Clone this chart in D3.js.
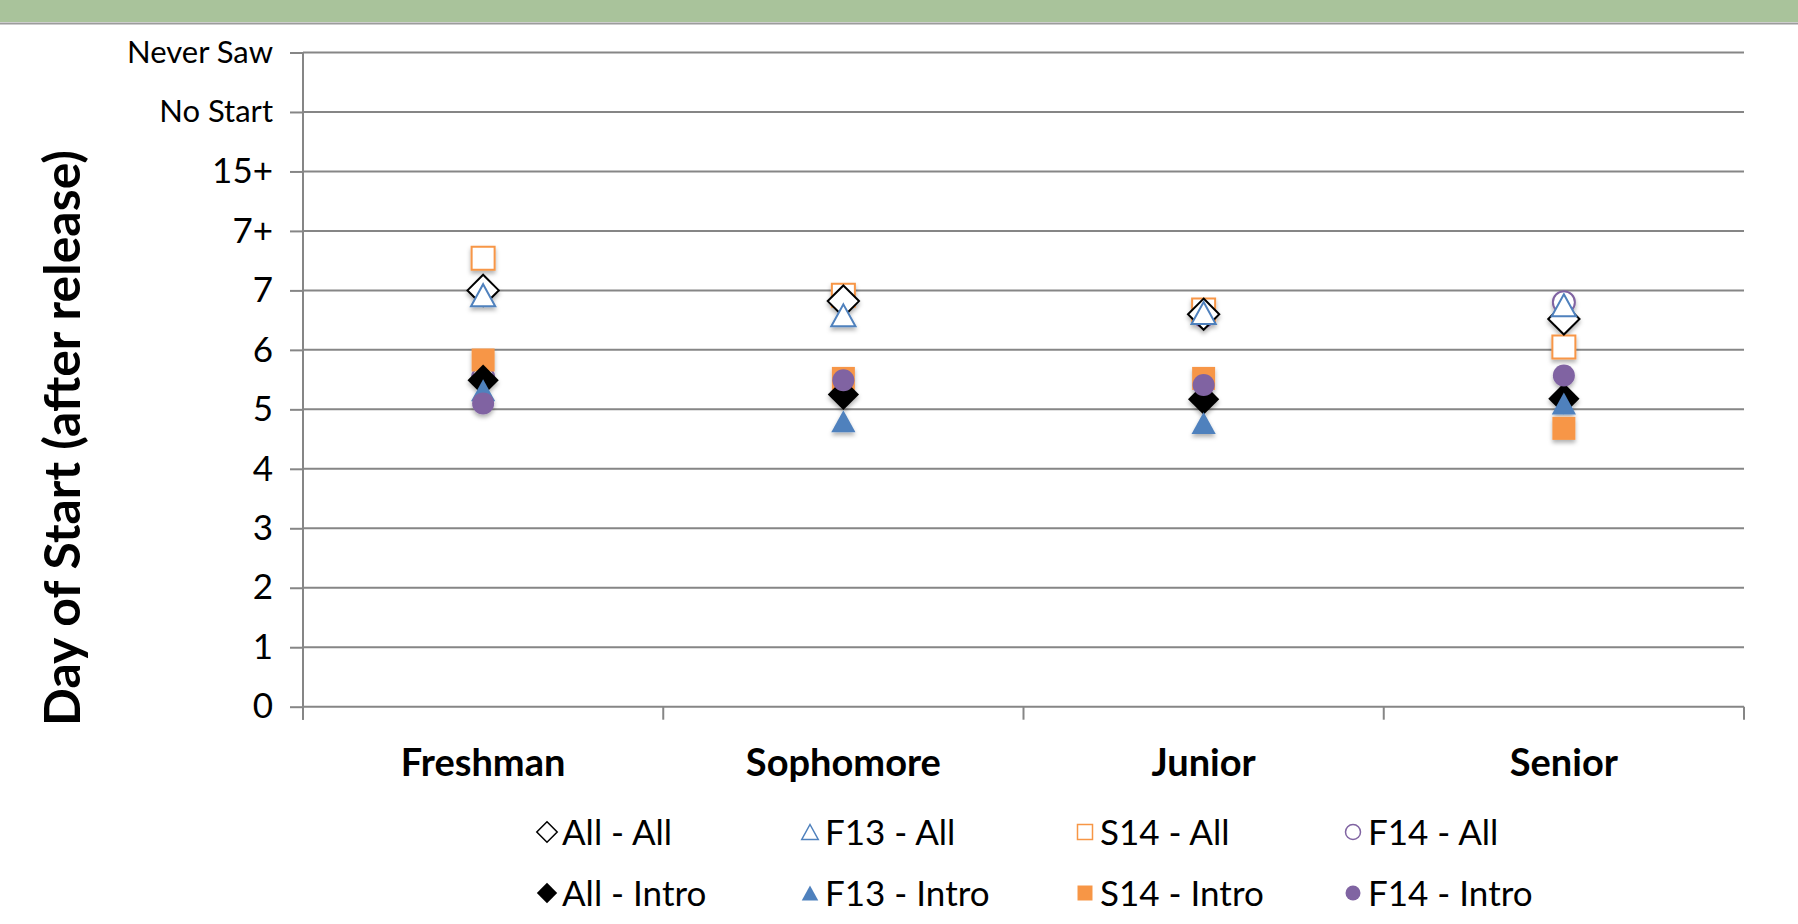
<!DOCTYPE html>
<html>
<head>
<meta charset="utf-8">
<script src="https://cdn.jsdelivr.net/npm/d3@7/dist/d3.min.js"></script>
<style>
  html, body { margin: 0; padding: 0; background: #fff; }
  svg { display: block; }
  text { font-family: Lato, "Noto Sans", sans-serif; fill: #000; }
</style>
</head>
<body>
<svg id="chart" width="1798" height="924"></svg>
<script>
// Class years on the x axis and the ordinal day-of-start scale on the y axis
const categories = ["Freshman", "Sophomore", "Junior", "Senior"];
const yTickLabels = ["0", "1", "2", "3", "4", "5", "6", "7", "7+", "15+", "No Start", "Never Saw"];

// Mean day of start per class year, one array per term / course group
const allAll   = [7.00, 6.82, 6.60, 6.52];
const f13All   = [6.92, 6.58, 6.62, 6.75];
const s14All   = [7.54, 6.92, 6.67, 6.05];
const f14All   = [5.54, 6.88, 6.57, 6.80];
const allIntro = [5.49, 5.25, 5.17, 5.18];
const f13Intro = [5.32, 4.80, 4.77, 5.10];
const s14Intro = [5.83, 5.52, 5.52, 4.68];
const f14Intro = [5.10, 5.49, 5.41, 5.57];

const seriesNames = ["All - All", "F13 - All", "S14 - All", "F14 - All",
                     "All - Intro", "F13 - Intro", "S14 - Intro", "F14 - Intro"];

// legend order (row by row)
const series = [
  { name: seriesNames[0], values: allAll,   shape: "diamond",  color: "#000000", filled: false },
  { name: seriesNames[1], values: f13All,   shape: "triangle", color: "#4f81bd", filled: false },
  { name: seriesNames[2], values: s14All,   shape: "square",   color: "#f79646", filled: false },
  { name: seriesNames[3], values: f14All,   shape: "circle",   color: "#8064a2", filled: false },
  { name: seriesNames[4], values: allIntro, shape: "diamond",  color: "#000000", filled: true },
  { name: seriesNames[5], values: f13Intro, shape: "triangle", color: "#4f81bd", filled: true },
  { name: seriesNames[6], values: s14Intro, shape: "square",   color: "#f79646", filled: true },
  { name: seriesNames[7], values: f14Intro, shape: "circle",   color: "#8064a2", filled: true }
];
// stacking order of the markers in the plot (first drawn = bottom)
const drawOrder = [3, 2, 0, 1, 6, 4, 5, 7];

const W = 1798, H = 924;
const plot = { left: 303, right: 1744, top: 52.5, bottom: 706.7 };

const svg = d3.select("#chart");

// drop shadow used by the markers
const defs = svg.append("defs");
const f = defs.append("filter").attr("id", "shadow")
  .attr("x", "-50%").attr("y", "-50%").attr("width", "200%").attr("height", "200%");
f.append("feDropShadow").attr("dx", 0).attr("dy", 3).attr("stdDeviation", 2)
  .attr("flood-color", "#000").attr("flood-opacity", 0.3);

// slide header band
svg.append("rect").attr("x", 0).attr("y", 0).attr("width", W).attr("height", 22)
  .attr("fill", "#a9c39b");
svg.append("line").attr("x1", 0).attr("x2", W).attr("y1", 23.5).attr("y2", 23.5)
  .attr("stroke", "#9c9c9c").attr("stroke-width", 2);

const x = d3.scaleBand().domain(categories).range([plot.left, plot.right]).paddingInner(0).paddingOuter(0);
const y = d3.scaleLinear().domain([0, yTickLabels.length - 1]).range([plot.bottom, plot.top]);

const gridColor = "#868686";

// horizontal gridlines
svg.append("g").selectAll("line")
  .data(d3.range(1, yTickLabels.length))
  .join("line")
  .attr("x1", plot.left).attr("x2", plot.right)
  .attr("y1", d => y(d)).attr("y2", d => y(d))
  .attr("stroke", gridColor).attr("stroke-width", 2);

// y axis with ordinal labels
const yAxis = d3.axisLeft(y)
  .tickValues(d3.range(yTickLabels.length))
  .tickFormat(i => yTickLabels[i])
  .tickSize(13).tickPadding(17);
const gy = svg.append("g").attr("transform", `translate(${plot.left},0)`).call(yAxis);
gy.select(".domain").attr("stroke", gridColor).attr("stroke-width", 2)
  .attr("d", `M0,${y(yTickLabels.length - 1)}V${plot.bottom + 13}`);
gy.selectAll(".tick line").attr("stroke", gridColor).attr("stroke-width", 2);
gy.selectAll(".tick text")
  .attr("fill", "#000")
  .style("font-family", "Lato, 'Noto Sans', sans-serif")
  .style("font-size", d => (d >= 10 ? "31px" : "35px"));

// x axis: baseline plus ticks at category boundaries
svg.append("line").attr("x1", plot.left).attr("x2", plot.right)
  .attr("y1", plot.bottom).attr("y2", plot.bottom)
  .attr("stroke", gridColor).attr("stroke-width", 2);
svg.append("g").selectAll("line")
  .data(d3.range(categories.length + 1))
  .join("line")
  .attr("x1", i => plot.left + i * x.step()).attr("x2", i => plot.left + i * x.step())
  .attr("y1", plot.bottom).attr("y2", plot.bottom + 13)
  .attr("stroke", gridColor).attr("stroke-width", 2);
svg.append("g").selectAll("text")
  .data(categories)
  .join("text")
  .attr("x", d => x(d) + x.bandwidth() / 2)
  .attr("y", 776)
  .attr("text-anchor", "middle")
  .style("font-size", "38px").style("font-weight", "bold")
  .text(d => d);

// y axis title
svg.append("text")
  .attr("transform", `translate(80,438) rotate(-90)`)
  .attr("text-anchor", "middle")
  .style("font-size", "50px").style("font-weight", "bold")
  .text("Day of Start (after release)");

// marker path generators
function markerPath(shape, s) {
  if (shape === "circle") return d3.symbol(d3.symbolCircle, Math.PI * s * s / 4)();
  if (shape === "square") return d3.symbol(d3.symbolSquare, s * s)();
  if (shape === "diamond") {
    const h = s * 0.68;
    return `M0,${-h}L${h},0L0,${h}L${-h},0Z`;
  }
  // triangle
  const hw = s * 0.55, hh = s * 0.5;
  return `M0,${-hh}L${hw},${hh}L${-hw},${hh}Z`;
}

const markerSize = { circle: 22, square: 23, diamond: 23, triangle: 22 };

const marks = svg.append("g").attr("filter", "url(#shadow)");
drawOrder.map(i => series[i]).forEach(s => {
  marks.append("g").selectAll("path")
    .data(s.values.map((v, i) => ({ cat: categories[i], v })))
    .join("path")
    .attr("transform", d => `translate(${x(d.cat) + x.bandwidth() / 2},${y(d.v)})`)
    .attr("d", markerPath(s.shape, markerSize[s.shape]))
    .attr("fill", s.filled ? s.color : "#fff")
    .attr("stroke", s.color)
    .attr("stroke-width", s.filled ? 0 : 2);
});

// legend: two rows of four entries
const legendCols = [547, 810, 1085, 1353];
const legendRows = [832, 893];
const legend = svg.append("g");
series.forEach((s, i) => {
  const cx = legendCols[i % 4], cy = legendRows[Math.floor(i / 4)];
  const g = legend.append("g").attr("transform", `translate(${cx},${cy})`);
  g.append("path")
    .attr("d", markerPath(s.shape, 15))
    .attr("fill", s.filled ? s.color : "#fff")
    .attr("stroke", s.color)
    .attr("stroke-width", s.filled ? 0 : 1.5);
  g.append("text")
    .attr("x", 15).attr("y", 13)
    .style("font-size", "35px")
    .text(s.name);
});
</script>
</body>
</html>
